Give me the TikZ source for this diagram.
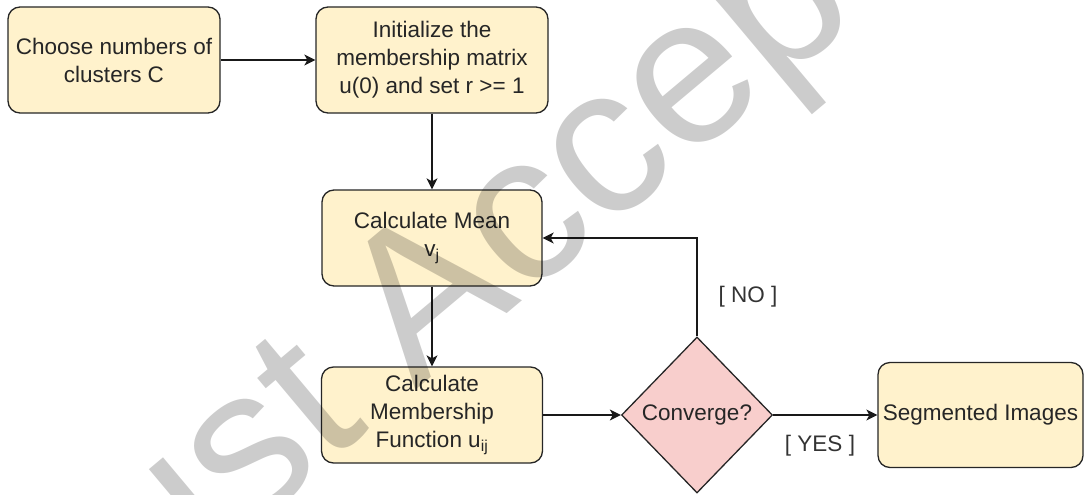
\documentclass[tikz,border=0pt]{standalone}
\usepackage{fontspec}
\setmainfont{Liberation Sans}
\usetikzlibrary{shapes.geometric, arrows.meta}

\definecolor{boxyellow}{HTML}{FFF2CC}
\definecolor{decpink}{HTML}{F8CECC}
\newcommand{\flowfont}{\fontsize{22.5}{28}\selectfont}
\newcommand{\markfont}{\fontsize{210}{210}\selectfont}

\begin{document}
\begin{tikzpicture}[x = 1pt, y = -1pt,
		stepbox/.style = {draw = black!85, fill = boxyellow, rounded corners = 12pt, line width = 1.3pt, align = center, inner sep = 0pt, text = black!85, font = \flowfont},
		decision/.style = {diamond, draw = black!85, fill = decpink, line width = 1.3pt, inner sep = 0pt, text = black!85, font = \flowfont},
		tag/.style = {text = black!80, font = \flowfont},
		flow/.style = {line width = 1.3pt, draw = black!90, -{Stealth[length = 11pt, width = 11pt, inset = 3pt]}},
		wmark/.style = {text = black, text opacity = 0.2, font = \markfont, inner sep = 0pt}]
			 	\useasboundingbox (0, 0) rectangle (1084, 495);
			 	\clip (0, 0) rectangle (1084, 495);
			 	
			 	% Nodes
			 	\node[stepbox, minimum width = 212, minimum height = 106] (choose) at (114, 60) {Choose numbers of\\clusters C};
			 	\node[stepbox, minimum width = 232, minimum height = 106] (init) at (432, 60) {Initialize the\\membership matrix\\u(0) and set r >= 1};
			 	\node[stepbox, minimum width = 220, minimum height = 96] (mean) at (432, 238) {Calculate Mean\\v\textsubscript{j}};
			 	\node[stepbox, minimum width = 221, minimum height = 96] (member) at (432, 415) {Calculate\\Membership\\Function u\textsubscript{ij}};
			 	\node[decision, minimum width = 151, minimum height = 156] (conv) at (697, 415) {Converge?};
			 	\node[stepbox, minimum width = 205, minimum height = 105] (seg) at (980.5, 415) {Segmented Images};
			 	\node[tag] (no) at (748, 297) {[ NO ]};
			 	\node[tag] (yes) at (820, 446) {[ YES ]};
			 	
			 	% Edges
			 	\draw[flow] (choose) to (init);
			 	\draw[flow] (init) to (mean);
			 	\draw[flow] (mean) to (member);
			 	\draw[flow] (member) to (conv);
			 	\draw[flow] (conv) |- (mean);
			 	\draw[flow] (conv) to (seg);
			 	
			 	% Watermark
			 	\node[wmark, rotate = 40, anchor = base west] (stamp) at (76, 676) {Just Accepted};
			\end{tikzpicture}
\end{document}
